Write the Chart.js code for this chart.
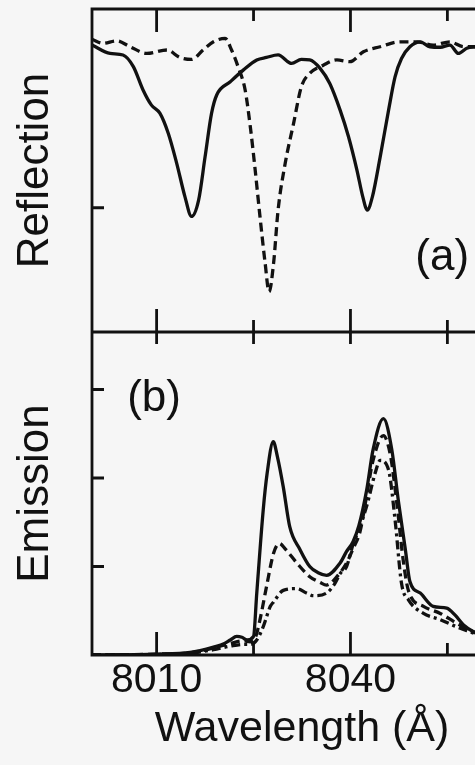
<!DOCTYPE html>
<html>
<head>
<meta charset="utf-8">
<title>Reflection and emission spectra</title>
<script src="https://cdn.jsdelivr.net/npm/chart.js@4.4.1/dist/chart.umd.min.js"></script>
<style>
  html, body { margin: 0; padding: 0; background: #f6f6f6; overflow: hidden; }
  #spectra { display: block; }
</style>
</head>
<body>
<canvas id="spectra" width="512" height="765"></canvas>
<script>
// wavelength axis (Å)
const xTicks = [8010, 8025, 8040, 8055];
const xTickLabels = [8010, 8040];
const reflTicks = [0.5];
const emTicks = [1, 2, 3];

// (a) reflection, solid trace
const reflSolidWl = [8000, 8002.8, 8004.8, 8006.4, 8007.9, 8009.2, 8010.5, 8011.8, 8013.1, 8014.4,
  8015.4, 8016.5, 8017.5, 8018.5, 8019.3, 8021.4, 8023.4, 8025.5, 8027.0, 8028.8, 8030.9, 8032.4,
  8033.7, 8035.3, 8036.8, 8038.4, 8039.7, 8041.0, 8041.9, 8042.6, 8043.4, 8044.6, 8045.9, 8046.9,
  8047.9, 8049.2, 8050.8, 8052.3, 8053.9, 8055.4, 8056.7, 8058.0, 8059.3, 8061, 8063, 8065];
const reflSolid = [1.155, 1.121, 1.115, 1.068, 0.974, 0.913, 0.881, 0.80, 0.68, 0.543,
  0.465, 0.531, 0.705, 0.88, 0.954, 1.007, 1.054, 1.095, 1.105, 1.115, 1.081, 1.097,
  1.095, 1.061, 1.0, 0.893, 0.786, 0.652, 0.545, 0.491, 0.545, 0.705, 0.893, 1.027,
  1.101, 1.148, 1.168, 1.148, 1.146, 1.155, 1.121, 1.142, 1.148, 1.15, 1.15, 1.15];

// (a) reflection, dashed trace
const reflDashWl = [8000, 8001.7, 8003.8, 8005.9, 8008.5, 8011.6, 8013.6, 8015.4, 8017.2, 8018.8,
  8020.6, 8021.6, 8022.6, 8023.7, 8024.5, 8025.2, 8026.0, 8026.8, 8027.4, 8028.1, 8028.8, 8029.9,
  8031.2, 8032.4, 8033.7, 8035.8, 8037.9, 8039.9, 8042.0, 8044.6, 8047.7, 8050.3, 8052.8, 8055.4,
  8057.5, 8059.3, 8062, 8065];
const reflDash = [1.178, 1.162, 1.172, 1.148, 1.121, 1.135, 1.105, 1.097, 1.135, 1.168,
  1.182, 1.135, 1.068, 0.974, 0.826, 0.665, 0.464, 0.276, 0.162, 0.276, 0.491, 0.679,
  0.84, 0.987, 1.041, 1.074, 1.095, 1.088, 1.128, 1.148, 1.168, 1.168, 1.155, 1.168,
  1.148, 1.148, 1.15, 1.15];

// (b) emission, solid trace
const emSolidWl = [8000, 8010, 8015.2, 8018.8, 8020.5, 8021.4, 8022.4, 8023.2, 8024.0, 8025.0,
  8025.5, 8026.5, 8027.1, 8028.05, 8028.7, 8029.6, 8030.6, 8032.2, 8033.7, 8035.0, 8036.3, 8038.4,
  8039.4, 8040.4, 8041.3, 8042.5, 8043.5, 8045.1, 8046.4, 8047.4, 8048.5, 8049.2, 8050.8, 8052.8,
  8054.9, 8056.2, 8057.5, 8059.1, 8061, 8063, 8065];
const emSolid = [0, 0.01, 0.03, 0.09, 0.13, 0.17, 0.21, 0.2, 0.17, 0.21,
  0.70, 1.64, 2.05, 2.41, 2.24, 1.90, 1.45, 1.19, 1.0, 0.93, 0.90, 1.04,
  1.17, 1.28, 1.46, 1.86, 2.32, 2.67, 2.32, 1.75, 1.19, 0.83, 0.70, 0.55,
  0.53, 0.45, 0.34, 0.26, 0.2, 0.16, 0.13];

// (b) emission, dashed trace
const emDashWl = [8000, 8010, 8015.2, 8018.8, 8021.4, 8023.4, 8024.5, 8025.3, 8026.0, 8027.0,
  8028.1, 8029.0, 8029.9, 8031.7, 8033.7, 8035.3, 8036.3, 8037.9, 8039.4, 8040.4, 8041.5, 8042.5,
  8043.5, 8045.1, 8046.2, 8047.2, 8048.2, 8049.0, 8051.3, 8053.9, 8056.4, 8059.1, 8061, 8063, 8065];
const emDash = [0, 0.01, 0.025, 0.08, 0.13, 0.16, 0.15, 0.2, 0.40, 0.77,
  1.15, 1.26, 1.2, 1.04, 0.885, 0.82, 0.79, 0.885, 1.04, 1.2, 1.4, 1.8,
  2.2, 2.48, 2.25, 1.7, 1.05, 0.72, 0.55, 0.47, 0.36, 0.26, 0.2, 0.16, 0.13];

// (b) emission, dash-dot trace
const emDotWl = [8000, 8010, 8015.2, 8018.8, 8021.4, 8023.4, 8024.5, 8025.5, 8026.5, 8027.6,
  8028.1, 8029.6, 8031.7, 8033.2, 8034.3, 8036.3, 8037.6, 8038.4, 8039.4, 8040.4, 8041.2, 8042.5,
  8043.8, 8044.6, 8045.9, 8046.9, 8047.9, 8049.0, 8051.3, 8053.9, 8056.4, 8059.1, 8061, 8063, 8065];
const emDot = [0, 0.005, 0.02, 0.06, 0.1, 0.12, 0.12, 0.17, 0.32, 0.55,
  0.6, 0.73, 0.75, 0.7, 0.67, 0.70, 0.81, 0.92, 1.0, 1.25, 1.40, 1.68,
  2.05, 2.20, 2.09, 1.53, 0.81, 0.62, 0.47, 0.40, 0.32, 0.245, 0.19, 0.15, 0.12];

const INK = '#111';
const FONT = "'Liberation Sans', Arial, Helvetica, sans-serif";

function pts(xs, ys) {
  return xs.map((x, i) => ({ x: x, y: ys[i] }));
}

function trace(xs, ys, axis, dash) {
  return {
    data: pts(xs, ys),
    yAxisID: axis,
    borderColor: INK,
    borderWidth: 3.3,
    borderDash: dash,
    pointRadius: 0,
    cubicInterpolationMode: 'monotone',
    fill: false
  };
}

// panel tags, placed in data units of each panel
const tags = [
  { text: '(a)', axis: 'yRefl', x: 8054.2, y: 0.30 },
  { text: '(b)', axis: 'yEm', x: 8009.6, y: 2.90 }
];

// box outline, divider and inward tick marks
const framePlugin = {
  id: 'frame',
  afterDatasetsDraw(chart) {
    const ctx = chart.ctx;
    const area = chart.chartArea;
    const xs = chart.scales.x;
    const yR = chart.scales.yRefl;
    const yE = chart.scales.yEm;
    const mid = yR.bottom;
    ctx.save();
    ctx.strokeStyle = INK;
    ctx.lineWidth = 2.8;
    ctx.lineCap = 'butt';
    ctx.beginPath();
    ctx.moveTo(area.left, area.top - 1.4);
    ctx.lineTo(area.left, area.bottom + 1.4);
    [area.top, mid, area.bottom].forEach(y => {
      ctx.moveTo(area.left, y);
      ctx.lineTo(area.right, y);
    });
    xTicks.forEach(v => {
      const px = xs.getPixelForValue(v);
      const major = xTickLabels.includes(v);
      const len = major ? 23 : 12;
      ctx.moveTo(px, area.top);
      ctx.lineTo(px, area.top + len);
      ctx.moveTo(px, mid - len);
      ctx.lineTo(px, mid + 12);
      ctx.moveTo(px, area.bottom);
      ctx.lineTo(px, area.bottom - len);
    });
    reflTicks.forEach(v => {
      const py = yR.getPixelForValue(v);
      ctx.moveTo(area.left, py);
      ctx.lineTo(area.left + 12, py);
    });
    emTicks.forEach(v => {
      const py = yE.getPixelForValue(v);
      ctx.moveTo(area.left, py);
      ctx.lineTo(area.left + 12, py);
    });
    ctx.stroke();

    ctx.fillStyle = INK;
    ctx.font = '44px ' + FONT;
    ctx.textAlign = 'center';
    ctx.textBaseline = 'middle';
    tags.forEach(t => {
      ctx.fillText(t.text, xs.getPixelForValue(t.x), chart.scales[t.axis].getPixelForValue(t.y));
    });
    ctx.restore();
  }
};

const hiddenGrid = { display: false };
const hiddenBorder = { display: false };

new Chart(document.getElementById('spectra'), {
  type: 'line',
  data: {
    datasets: [
      trace(reflSolidWl, reflSolid, 'yRefl', []),
      trace(reflDashWl, reflDash, 'yRefl', [9, 5]),
      trace(emSolidWl, emSolid, 'yEm', []),
      trace(emDashWl, emDash, 'yEm', [9, 5]),
      trace(emDotWl, emDot, 'yEm', [9, 4, 3, 4])
    ]
  },
  options: {
    responsive: false,
    animation: false,
    events: [],
    layout: { padding: { top: 9, left: 0, right: 0, bottom: 0 } },
    plugins: { legend: { display: false }, tooltip: { enabled: false } },
    scales: {
      x: {
        type: 'linear',
        position: 'bottom',
        min: 8000,
        max: 8065,
        grid: hiddenGrid,
        border: hiddenBorder,
        afterBuildTicks: s => { s.ticks = xTicks.map(v => ({ value: v })); },
        afterFit: s => { s.height = 110; },
        ticks: {
          color: INK,
          padding: -7,
          maxRotation: 0,
          autoSkip: false,
          font: { family: FONT, size: 41 },
          callback: v => (xTickLabels.includes(v) ? String(v) : '')
        },
        title: {
          display: true,
          text: 'Wavelength (Å)',
          color: INK,
          padding: { top: 0, bottom: 10 },
          font: { family: FONT, size: 43 }
        }
      },
      yEm: {
        type: 'linear',
        position: 'left',
        stack: 'panels',
        stackWeight: 1,
        weight: 0,
        min: 0,
        max: 3.65,
        grid: hiddenGrid,
        border: hiddenBorder,
        afterBuildTicks: s => { s.ticks = emTicks.map(v => ({ value: v })); },
        afterFit: s => { s.width = 92; },
        ticks: { display: false },
        title: {
          display: true,
          text: 'Emission',
          color: INK,
          padding: { top: 9, bottom: 0 },
          font: { family: FONT, size: 44 }
        }
      },
      yRefl: {
        type: 'linear',
        position: 'left',
        stack: 'panels',
        stackWeight: 1,
        weight: 1,
        min: 0,
        max: 1.3,
        grid: hiddenGrid,
        border: hiddenBorder,
        afterBuildTicks: s => { s.ticks = reflTicks.map(v => ({ value: v })); },
        afterFit: s => { s.width = 92; },
        ticks: { display: false },
        title: {
          display: true,
          text: 'Reflection',
          color: INK,
          padding: { top: 9, bottom: 0 },
          font: { family: FONT, size: 44 }
        }
      }
    }
  },
  plugins: [framePlugin]
});
</script>
</body>
</html>
